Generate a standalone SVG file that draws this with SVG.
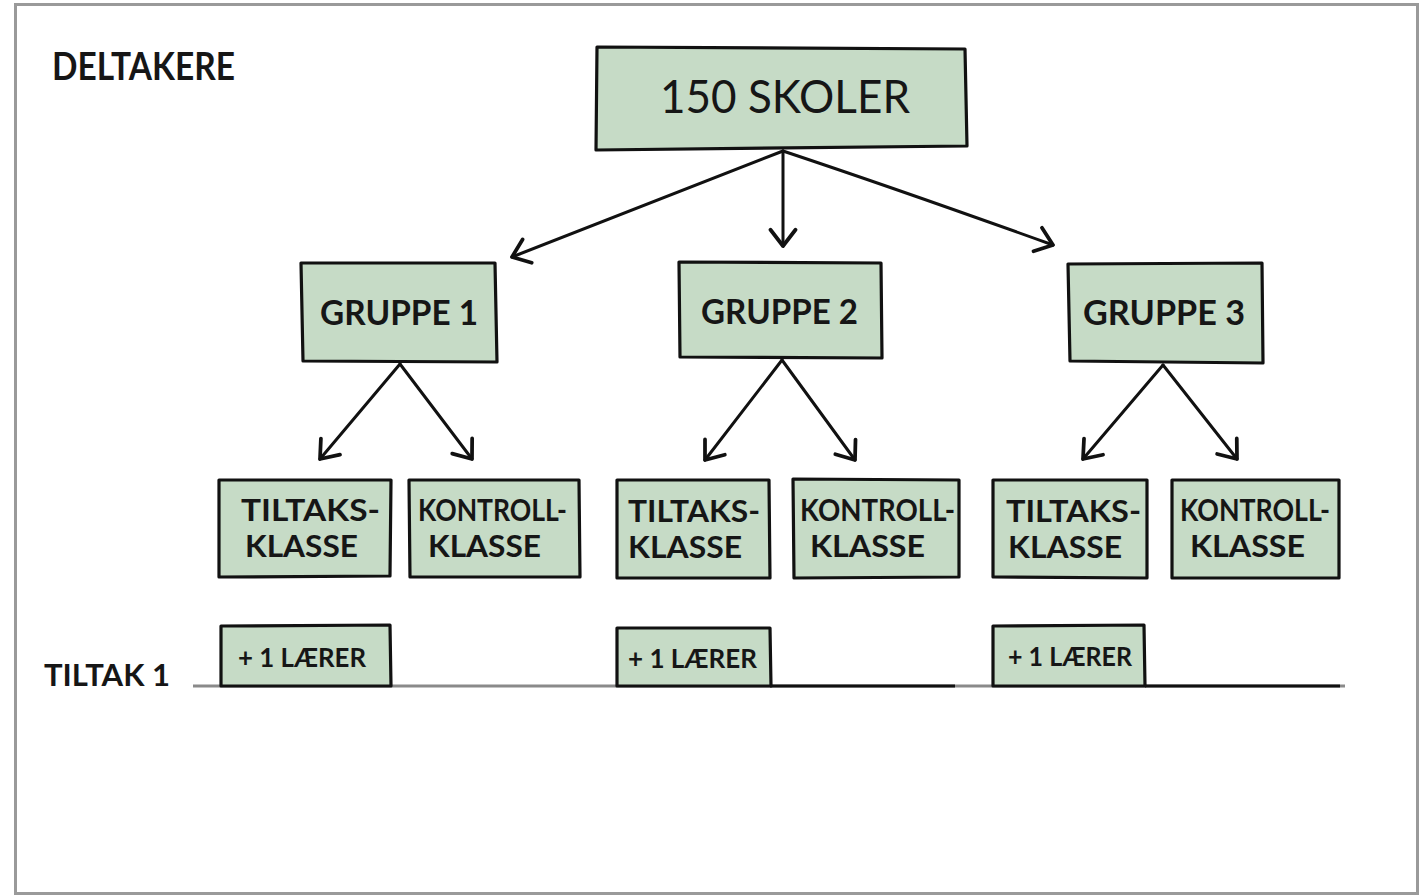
<svg xmlns="http://www.w3.org/2000/svg" width="1422" height="896" viewBox="0 0 1422 896">
<style>
.box{fill:#c6dbc6;stroke:#111;stroke-width:3.2;stroke-linejoin:round}
.t{font-family:"Lato","Liberation Sans",sans-serif;font-weight:700;fill:#161616}
.n{font-weight:400}
.c{font-size:31px}
.conn{stroke:#111;stroke-width:3;fill:none;stroke-linecap:round}
</style>
<defs>
<marker id="ah" markerUnits="userSpaceOnUse" markerWidth="30" markerHeight="30" viewBox="-16 -12 20 24" refX="0" refY="0" orient="auto">
<path d="M-13,-10 L0,0 L-13,10" fill="none" stroke="#111" stroke-width="3" stroke-linecap="round" stroke-linejoin="round"/>
</marker>
</defs>
<rect width="1422" height="896" fill="#fff"/>
<rect x="15.5" y="4.5" width="1402" height="889" fill="none" stroke="#9a9a9a" stroke-width="3"/>
<text class="t" x="52" y="80" font-size="38" textLength="183" lengthAdjust="spacingAndGlyphs">DELTAKERE</text>
<g id="top">
<path class="box" d="M597,47 L965,49 L967,146 L596,150 Z"/>
<text class="t n" x="660" y="113" font-size="46" textLength="250" lengthAdjust="spacingAndGlyphs">150 SKOLER</text>
</g>
<g id="g1"><path class="box" d="M301,263 L495,263 L497,362 L303,361 Z"/><text class="t" x="320" y="325" font-size="34" textLength="158" lengthAdjust="spacingAndGlyphs">GRUPPE 1</text></g>
<g id="g2"><path class="box" d="M679,262 L881,263 L882,358 L680,357 Z"/><text class="t" x="701" y="324" font-size="34" textLength="157" lengthAdjust="spacingAndGlyphs">GRUPPE 2</text></g>
<g id="g3"><path class="box" d="M1068,264 L1262,263 L1263,363 L1070,361 Z"/><text class="t" x="1083" y="325" font-size="34" textLength="162" lengthAdjust="spacingAndGlyphs">GRUPPE 3</text></g>
<g id="t1"><path class="box" d="M219,480 L391,480 L390,576 L219,577 Z"/><text class="t c"><tspan x="241" y="521" textLength="139" lengthAdjust="spacingAndGlyphs">TILTAKS-</tspan><tspan x="245" y="557" textLength="113" lengthAdjust="spacingAndGlyphs">KLASSE</tspan></text></g>
<g id="k1"><path class="box" d="M409,480 L579,480 L580,577 L410,577 Z"/><text class="t c"><tspan x="418" y="521" textLength="149" lengthAdjust="spacingAndGlyphs">KONTROLL-</tspan><tspan x="428" y="557" textLength="113" lengthAdjust="spacingAndGlyphs">KLASSE</tspan></text></g>
<g id="t2"><path class="box" d="M617,480 L769,480 L770,578 L617,578 Z"/><text class="t c"><tspan x="628" y="522" textLength="132" lengthAdjust="spacingAndGlyphs">TILTAKS-</tspan><tspan x="628" y="558" textLength="114" lengthAdjust="spacingAndGlyphs">KLASSE</tspan></text></g>
<g id="k2"><path class="box" d="M793,479 L959,480 L959,577 L794,578 Z"/><text class="t c"><tspan x="800" y="521" textLength="155" lengthAdjust="spacingAndGlyphs">KONTROLL-</tspan><tspan x="810" y="557" textLength="115" lengthAdjust="spacingAndGlyphs">KLASSE</tspan></text></g>
<g id="t3"><path class="box" d="M993,480 L1147,480 L1147,578 L993,577 Z"/><text class="t c"><tspan x="1006" y="522" textLength="135" lengthAdjust="spacingAndGlyphs">TILTAKS-</tspan><tspan x="1008" y="558" textLength="114" lengthAdjust="spacingAndGlyphs">KLASSE</tspan></text></g>
<g id="k3"><path class="box" d="M1172,480 L1339,480 L1339,578 L1172,578 Z"/><text class="t c"><tspan x="1180" y="521" textLength="150" lengthAdjust="spacingAndGlyphs">KONTROLL-</tspan><tspan x="1190" y="557" textLength="115" lengthAdjust="spacingAndGlyphs">KLASSE</tspan></text></g>
<line x1="193" y1="686" x2="1345" y2="686" stroke="#8a8a8a" stroke-width="3"/>
<line x1="770" y1="686" x2="955" y2="686" stroke="#111" stroke-width="3.2"/>
<line x1="1145" y1="686" x2="1340" y2="686" stroke="#111" stroke-width="3.2"/>
<g id="l1"><path class="box" d="M221,626 L390,625 L391,686 L221,686 Z"/><text class="t" x="238" y="667" font-size="26" textLength="128" lengthAdjust="spacingAndGlyphs">+ 1 LÆRER</text></g>
<g id="l2"><path class="box" d="M617,628 L770,628 L771,686 L617,686 Z"/><text class="t" x="628" y="668" font-size="26" textLength="129" lengthAdjust="spacingAndGlyphs">+ 1 LÆRER</text></g>
<g id="l3"><path class="box" d="M993,626 L1144,625 L1145,686 L993,686 Z"/><text class="t" x="1008" y="666" font-size="26" textLength="124" lengthAdjust="spacingAndGlyphs">+ 1 LÆRER</text></g>
<text class="t" x="44" y="686" font-size="30" textLength="126" lengthAdjust="spacingAndGlyphs">TILTAK 1</text>
<g id="connectors">
<path class="conn" d="M783,151 L512,257" marker-end="url(#ah)"/>
<path class="conn" d="M783,151 L783,246" marker-end="url(#ah)"/>
<path class="conn" d="M783,151 Q900,190 1053,245" marker-end="url(#ah)"/>
<path class="conn" d="M400,364 L320,459" marker-end="url(#ah)"/>
<path class="conn" d="M400,364 L472,459" marker-end="url(#ah)"/>
<path class="conn" d="M782,360 L705,460" marker-end="url(#ah)"/>
<path class="conn" d="M782,360 L855,460" marker-end="url(#ah)"/>
<path class="conn" d="M1163,365 L1083,459" marker-end="url(#ah)"/>
<path class="conn" d="M1163,365 L1237,459" marker-end="url(#ah)"/>
</g>
</svg>
